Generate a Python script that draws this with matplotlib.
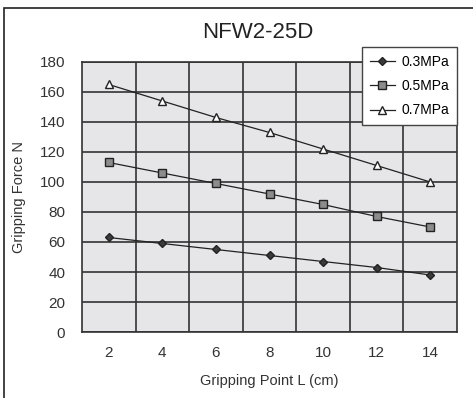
import matplotlib.pyplot as plt
from matplotlib.patches import Rectangle

plt.rcParams['font.family'] = ['Liberation Sans', 'DejaVu Sans']

# data
points = ["2", "4", "6", "8", "10", "12", "14"]
force_03 = [63, 59, 55, 51, 47, 43, 38]
force_05 = [113, 106, 99, 92, 85, 77, 70]
force_07 = [165, 154, 143, 133, 122, 111, 100]

fig = plt.figure(figsize=(4.73, 3.98), dpi=100)
W, H = 473, 398
ax = fig.add_axes([82 / W, 1 - 332 / H, (457 - 82) / W, (332 - 62) / H])

# outer frame (only left/top visible)
fig.patches.append(Rectangle((4 / W, -0.1), 1.2, 1.1 - 8 / H, transform=fig.transFigure,
                             fill=False, edgecolor='#222222', linewidth=1.2))

ax.set_facecolor('#e6e6e8')
x = range(len(points))
ax.plot(x, force_03, color='#222222', lw=0.9, marker='D', ms=4.5,
        mfc='#3a3a3a', mec='#222222', label='0.3MPa')
ax.plot(x, force_05, color='#222222', lw=0.9, marker='s', ms=5.5,
        mfc='#8c8c8c', mec='#222222', label='0.5MPa')
ax.plot(x, force_07, color='#222222', lw=0.9, marker='^', ms=6,
        mfc='white', mec='#222222', label='0.7MPa')

ax.set_xlim(-0.5, len(points) - 0.5)
ax.set_ylim(0, 180)
ax.set_yticks(range(0, 181, 20))
ax.set_xticks(list(x))
ax.set_xticklabels(points)
ax.set_xticks([i + 0.5 for i in range(len(points) - 1)], minor=True)
ax.grid(True, which='minor', axis='x', color='#333333', lw=1.2)
ax.grid(True, which='major', axis='y', color='#333333', lw=1.2)
ax.set_axisbelow(True)
ax.tick_params(which='both', length=0)
ax.tick_params(axis='y', labelsize=11, pad=12, colors='#333333')
ax.tick_params(axis='x', labelsize=11, pad=10, colors='#333333')
for s in ax.spines.values():
    s.set_color('#333333')
    s.set_linewidth(1.2)

ax.set_xlabel('Gripping Point L (cm)', fontsize=10.5, color='#333333', labelpad=10)
ax.set_ylabel('Gripping Force N', fontsize=10.5, color='#333333', labelpad=10)
fig.text(258 / W, 1 - 33 / H, 'NFW2-25D', ha='center', va='center', fontsize=16, color='#222222')

leg = ax.legend(loc='upper right', bbox_to_anchor=(1.0, 1 + 15 / 270), fontsize=10,
                frameon=True, fancybox=False, borderaxespad=0, handlelength=1.8,
                labelspacing=0.75, borderpad=0.55, handletextpad=0.5)
leg.get_frame().set_edgecolor('#444444')
leg.get_frame().set_facecolor('white')
leg.get_frame().set_alpha(1)
leg.get_frame().set_linewidth(1)

plt.savefig('out.png', dpi=100)
